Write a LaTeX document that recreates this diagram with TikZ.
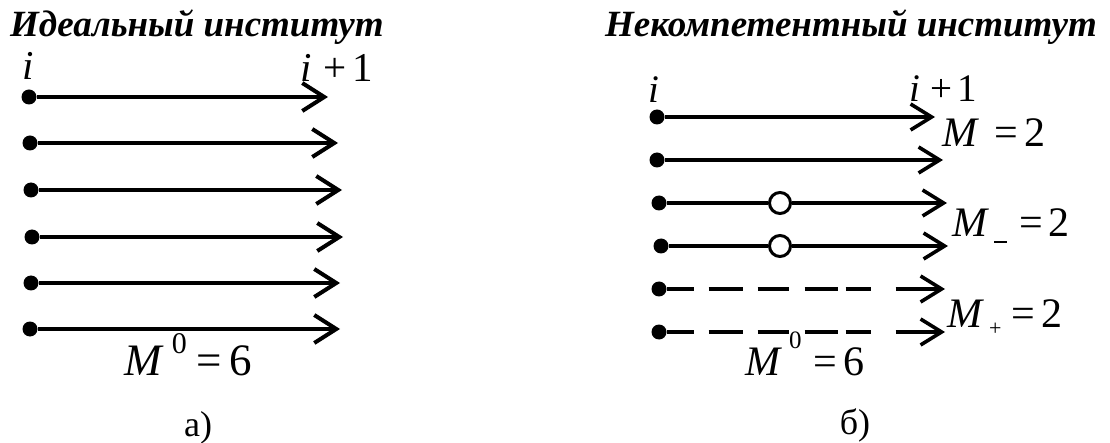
\documentclass[tikz,border=0pt]{standalone}
\usepackage{fontspec}
\setmainfont{Liberation Serif}
\usetikzlibrary{arrows.meta}
\newcommand\mysup[3]{\raisebox{#1}{\fontsize{#2}{#2}\selectfont #3}}
\begin{document}
\begin{tikzpicture}[x=1pt,y=-1pt,
  dot/.style={circle,fill=black,inner sep=0pt,minimum size=15pt},
  hollow/.style={circle,draw=black,fill=white,line width=3pt,inner sep=0pt,minimum size=21pt},
  flowA/.style={line width=4pt,-{Straight Barb[length=22pt,width=28pt]}},
  flowB/.style={line width=3.6pt,-{Straight Barb[length=21pt,width=26pt]}},
  segB/.style={line width=3.6pt},
  dashB/.style={flowB,dash pattern=on 27pt off 15pt on 34pt off 15pt on 31pt off 16pt on 33pt off 8pt on 25pt off 25pt on 200pt},
  titlebox/.style={anchor=base west,inner sep=0pt,font=\fontsize{37}{37}\selectfont\bfseries\itshape},
  lbl/.style={anchor=base west,inner sep=0pt,font=\fontsize{41}{41}\selectfont},
  lblB/.style={anchor=base west,inner sep=0pt,font=\fontsize{39}{39}\selectfont},
  mlblA/.style={anchor=base west,inner sep=0pt,font=\fontsize{45}{45}\selectfont},
  mlblB/.style={anchor=base west,inner sep=0pt,font=\fontsize{42}{42}\selectfont},
  captext/.style={anchor=base,inner sep=0pt,font=\fontsize{36}{36}\selectfont}
]
\useasboundingbox (0,0) rectangle (1110,443);
% ---------- left panel
\node[titlebox] (tA) at (10,37) {Идеальный институт};
\foreach \n/\y/\dx/\tx in {1/97/29/328, 2/143/30/338, 3/190/31/342, 4/237/32/343, 5/283/31/340, 6/329/30/340}{
  \node[dot] (a\n) at (\dx,\y) {};
  \coordinate (at\n) at (\tx,\y);
  \draw[flowA] (a\n) -- (at\n);
}
\node[lbl] (iA) at (22,80) {\textit{i}};
\node[lbl] (i1A) at (300,82) {\textit{i}\hspace{12pt}+\hspace{6pt}1};
\node[mlblA] (m0A) at (124,375) {\textit{M}\hspace{8pt}\mysup{22pt}{30}{0}\hspace{10pt}=\hspace{7pt}6};
\node[captext] (capA) at (198,436) {а)};
% ---------- right panel
\node[titlebox] (tB) at (605,37) {Некомпетентный институт};
\foreach \n/\y/\dx/\tx in {1/117/657/935, 2/160/657/943, 3/203/659/947, 4/246/661/948, 5/289/659/945, 6/332/659/945}{
  \node[dot] (b\n) at (\dx,\y) {};
  \coordinate (bt\n) at (\tx,\y);
}
\draw[flowB] (b1) -- (bt1);
\draw[flowB] (b2) -- (bt2);
\node[hollow] (o3) at (780,203) {};
\node[hollow] (o4) at (780,246) {};
\draw[segB] (b3) -- (o3);
\draw[flowB] (o3) -- (bt3);
\draw[segB] (b4) -- (o4);
\draw[flowB] (o4) -- (bt4);
\draw[dashB] (b5) -- (bt5);
\draw[dashB] (b6) -- (bt6);
\node[lblB] (iB) at (648,103) {\textit{i}};
\node[lblB] (i1B) at (909,102) {\textit{i}\hspace{10pt}+\hspace{5pt}1};
\node[mlblB] (mB) at (942,147) {\textit{M}\hspace{15pt}=\hspace{7pt}2};
\node[mlblB] (mmB) at (952,237) {\textit{M}\hspace{5pt}\rule[-6pt]{13pt}{1.5pt}\hspace{12pt}=\hspace{6pt}2};
\node[mlblB] (mpB) at (947,327) {\textit{M}\hspace{5pt}\mysup{-8.5pt}{22}{+}\hspace{10pt}=\hspace{6pt}2};
\node[mlblB] (m0B) at (745,375) {\textit{M}\hspace{7pt}\mysup{27pt}{25}{0}\hspace{12pt}=\hspace{6pt}6};
\node[captext] (capB) at (855,434) {б)};
\end{tikzpicture}
\end{document}
